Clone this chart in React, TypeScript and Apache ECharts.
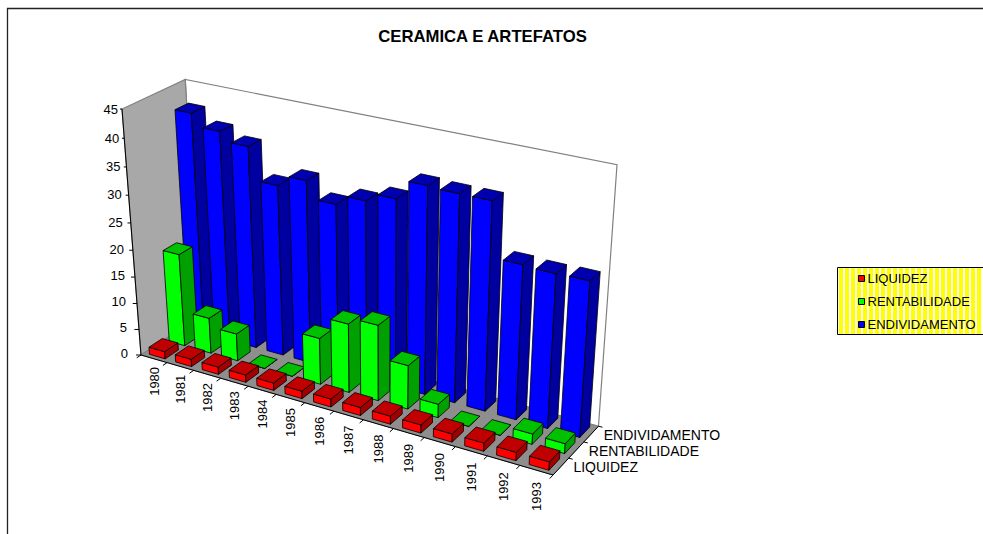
import React, { useEffect, useRef } from "react";
import * as echarts from "echarts";

const TITLE = "CERAMICA E ARTEFATOS";
const years = ["1980","1981","1982","1983","1984","1985","1986","1987","1988","1989","1990","1991","1992","1993"];
const liquidez = [1.4,1.4,1.4,1.4,1.4,1.4,1.5,1.5,1.5,1.5,1.5,1.5,1.5,1.5];
const rentabilidade = [17.6,6.8,5.2,0,0,8.7,12.8,14,8.1,2.5,0,0,1.9,1.8];
const endividamento = [41.3,39.1,37.5,31.7,33.7,30.7,32.5,34,37.4,37.2,37.2,27.7,27.5,27.6];
const yTicks = [0,5,10,15,20,25,30,35,40,45];
const depthNames = ["LIQUIDEZ","RENTABILIDADE","ENDIVIDAMENTO"];
const FONT = "Liberation Sans, Arial, sans-serif";

const W = 983, H = 534;
const O = [141,355], A = [553,475], B = [199,317], C = [122,109];
const a = 0.88, b = 1.045, c = 0.927;

function project(u: number, v: number, w: number): number[] {
  const den = 1 + u*(a-1) + w*(b-1) + v*(c-1);
  return [0,1].map(k => (O[k] + u*(a*A[k]-O[k]) + w*(b*B[k]-O[k]) + v*(c*C[k]-O[k])) / den);
}

const BAR_U = 0.6, BAR_W = 0.67;

function poly(points: number[][], fill: string, stroke: string, lineWidth = 0.8) {
  return { type: "polygon", shape: { points }, style: { fill, stroke, lineWidth } };
}

function barSeries(name: string, values: number[], row: number, front: string, top: string, side: string) {
  return {
    type: "custom", name, z: 5 - row, silent: true, clip: false,
    itemStyle: { color: front, borderColor: "#000", borderWidth: 1 },
    data: values.map((val, i) => [i, val]),
    encode: { x: 0, y: 1 },
    renderItem: (_: any, api: any) => {
      const p = api.coord([api.value(0), api.value(1)]);
      const du = api.size([1, 0])[0] / W;
      const uc = p[0] / W, vt = (H - p[1]) / H;
      const u0 = uc - du*BAR_U/2, u1 = uc + du*BAR_U/2;
      const w0 = (row + 0.5 - BAR_W/2)/3, w1 = (row + 0.5 + BAR_W/2)/3;
      const q = (u: number, v: number, w: number) => project(u, v, w);
      return { type: "group", children: [
        poly([q(u0,0,w0),q(u1,0,w0),q(u1,vt,w0),q(u0,vt,w0)], front, "#000"),
        poly([q(u1,0,w0),q(u1,0,w1),q(u1,vt,w1),q(u1,vt,w0)], side, "#000"),
        poly([q(u0,vt,w0),q(u1,vt,w0),q(u1,vt,w1),q(u0,vt,w1)], top, "#000"),
      ]};
    },
  };
}

export default function App() {
  const ref = useRef<HTMLDivElement>(null);
  useEffect(() => {
    document.body.style.margin = "0";
    const chart = echarts.init(ref.current!, undefined, { renderer: "svg" });
    const stripes: any[] = [];
    for (let x = 839; x < 983; x += 6) {
      stripes.push({ type: "rect", shape: { x, y: 268, width: 4, height: 66 }, style: { fill: "#ffff00" }, silent: true });
    }
    const walls = {
      type: "custom", name: "walls", z: 1, silent: true, clip: false,
      data: [[0, 0]], encode: { x: 0, y: 1 },
      renderItem: () => ({ type: "group", children: [
        poly([project(0,0,1),project(1,0,1),project(1,1,1),project(0,1,1)], "#ffffff", "#808080", 1.2),
        poly([project(0,0,0),project(0,0,1),project(0,1,1),project(0,1,0)], "#a8a8a8", "#808080", 1.2),
        poly([project(0,0,0),project(1,0,0),project(1,0,1),project(0,0,1)], "#8e8e8e", "#808080", 1),
        { type: "polyline", shape: { points: [project(0,1,0),project(0,0,0),project(1,0,0),project(1,0,1)] }, style: { fill: "none", stroke: "#000", lineWidth: 1 } },
      ]}),
    };
    const line = (p: number[], q: number[]) => ({ type: "line", shape: { x1:p[0], y1:p[1], x2:q[0], y2:q[1] }, style: { stroke: "#000", lineWidth: 1 } });
    const xAxisSeries = {
      type: "custom", name: "xlabels", z: 6, silent: true, clip: false,
      data: years.map((_, i) => [i, 0]), encode: { x: 0, y: 1 },
      renderItem: (_: any, api: any) => {
        const i = api.value(0);
        const p = api.coord([i, 0]);
        const du = api.size([1,0])[0] / W, u = p[0] / W;
        const anchor = project(u, 0, 0);
        const tick = u + du/2;
        return { type: "group", children: [
          line(project(tick,0,0), project(tick,0,-0.07)),
          ...(i === 0 ? [line(project(0,0,0), project(0,0,-0.07))] : []),
          { type: "text", x: anchor[0], y: anchor[1] + 8 + 4*u, rotation: Math.PI/2,
            style: { text: years[i], font: `13px ${FONT}`, fill: "#000", align: "right", verticalAlign: "middle" } },
        ]};
      },
    };
    const yAxisSeries = {
      type: "custom", name: "ylabels", z: 6, silent: true, clip: false,
      data: yTicks.map(t => [0, t]), encode: { x: 0, y: 1 },
      renderItem: (_: any, api: any) => {
        const t = api.value(1);
        const v = (H - api.coord([0, t])[1]) / H;
        const e = project(0, v, 0);
        return { type: "group", children: [
          line(e, [e[0] - (2 + 3*(1-v)), e[1]]),
          { type: "text", x: e[0] - (13 - 9*v), y: e[1] - 2*(1-v), style: { text: String(t), font: `13px ${FONT}`, fill: "#000", align: "right", verticalAlign: "middle" } },
        ]};
      },
    };
    const depthSeries = {
      type: "custom", name: "dlabels", z: 6, silent: true, clip: false,
      data: depthNames.map((_, i) => [0, i]), encode: { x: 0, y: 1 },
      renderItem: (_: any, api: any) => {
        const idx = api.value(1);
        const w = (idx + 0.5)/3;
        const e = project(1, 0, w);
        const t0 = project(1,0,(idx+1)/3);
        return { type: "group", children: [
          line(t0, [t0[0]+4, t0[1]+1]),
          { type: "text", x: e[0]+12.5, y: e[1]+0.5, style: { text: depthNames[idx], font: `14px ${FONT}`, fill: "#000", align: "left", verticalAlign: "middle" } },
        ]};
      },
    };
    chart.setOption({
      animation: false,
      backgroundColor: "#ffffff",
      title: { text: TITLE, left: 482.5, top: 28, padding: 0, textAlign: "center", textStyle: { fontFamily: FONT, fontWeight: "bold", fontSize: 16.7, color: "#000" } },
      grid: { left: 0, top: 0, width: W, height: H, show: false },
      xAxis: { type: "category", data: years, show: false },
      yAxis: { type: "value", min: 0, max: 45, interval: 5, show: false },
      legend: {
        orient: "vertical", left: 858, top: 272, padding: 0, itemGap: 10, itemWidth: 6, itemHeight: 6, icon: "rect",
        data: ["LIQUIDEZ","RENTABILIDADE","ENDIVIDAMENTO"],
        itemStyle: { borderColor: "#000", borderWidth: 1 },
        textStyle: { fontFamily: FONT, fontSize: 13, color: "#000", padding: [0,0,0,-2] },
        selectedMode: false, z: 10,
      },
      graphic: [
        { type: "polyline", shape: { points: [[7.5,534],[7.5,8.5],[983,8.5]] }, style: { fill: "none", stroke: "#222", lineWidth: 1.3 }, silent: true },
        { type: "rect", shape: { x: 837.5, y: 267.5, width: 150, height: 67 }, style: { fill: "#fff", stroke: "#000", lineWidth: 1 }, silent: true },
        ...stripes,
      ],
      series: [
        walls,
        barSeries("ENDIVIDAMENTO", endividamento, 2, "#0000ff", "#0000b0", "#0000a0"),
        barSeries("RENTABILIDADE", rentabilidade, 1, "#00ff00", "#00c000", "#00a000"),
        barSeries("LIQUIDEZ", liquidez, 0, "#ff0000", "#c00000", "#a00000"),
        xAxisSeries, yAxisSeries, depthSeries,
      ],
    });
    return () => chart.dispose();
  }, []);
  return <div ref={ref} style={{ width: W, height: H, position: "absolute", left: 0, top: 0 }} />;
}
